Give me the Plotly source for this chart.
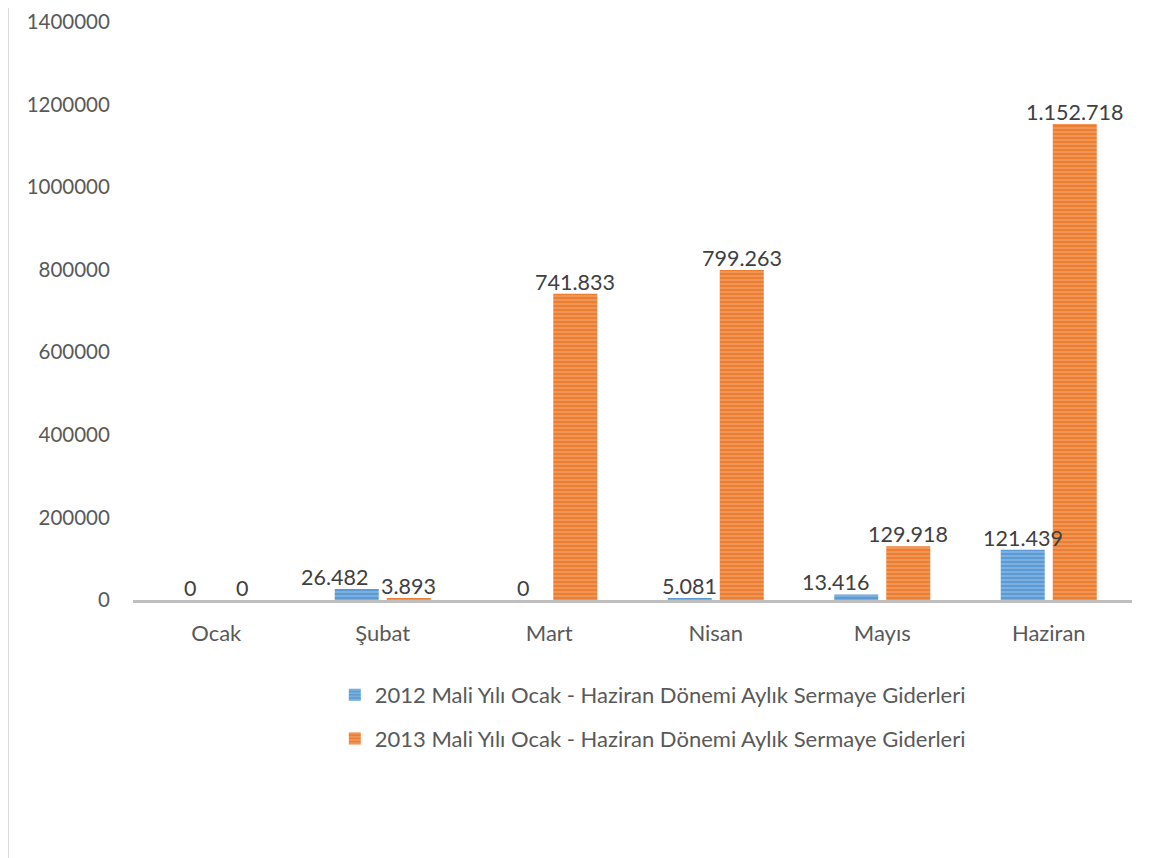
import plotly.graph_objects as go

months = ["Ocak", "Şubat", "Mart", "Nisan", "Mayıs", "Haziran"]
values_2012 = [0, 26482, 0, 5081, 13416, 121439]
values_2013 = [0, 3893, 741833, 799263, 129918, 1152718]
name_2012 = "2012 Mali Yılı Ocak - Haziran Dönemi Aylık Sermaye Giderleri"
name_2013 = "2013 Mali Yılı Ocak - Haziran Dönemi Aylık Sermaye Giderleri"
y_ticks = [0, 200000, 400000, 600000, 800000, 1000000, 1200000, 1400000]

# label nudges (pixels) used to keep neighbouring value labels apart, as in the original
label_nudge_2012 = [0, -22, 0, 0, -21, 0]
label_nudge_2013 = [0, 0, 0, 0, 0, 0]

def tr(v):
    return f"{v:,}".replace(",", ".")

FONT = "Lato"
BAR_OFFSET = 26  # half the distance between the two bars of a group, px

fig = go.Figure()
for i, (name, vals, col, fg) in enumerate([
    (name_2012, values_2012, "#5B9BD5", "#C9DDF0"),
    (name_2013, values_2013, "#ED7D31", "#F9CFB2"),
]):
    fig.add_trace(go.Bar(
        x=months, y=vals, name=name, legendgroup=f"g{i}",
        marker=dict(color=col, line=dict(width=0),
                    pattern=dict(shape="-", fgcolor=fg, bgcolor=col, size=4, solidity=0.3)),
    ))

annotations = []
for vals, nudges, side in [(values_2012, label_nudge_2012, -1), (values_2013, label_nudge_2013, 1)]:
    for m, v, n in zip(months, vals, nudges):
        annotations.append(dict(
            x=m, y=v, xref="x", yref="y", text=tr(v), showarrow=False,
            xanchor="center", yanchor="bottom", xshift=side * BAR_OFFSET + n, yshift=-3,
            font=dict(family=FONT, size=21.5, color="#404040"),
        ))

fig.update_layout(
    width=1154, height=858,
    margin=dict(l=125, r=30, t=14, b=266, autoexpand=False),
    paper_bgcolor="white", plot_bgcolor="white",
    barmode="group", bargap=0.375, bargroupgap=0.154,
    font=dict(family=FONT, size=22, color="#595959"),
    legend=dict(orientation="v", x=0.202, xanchor="left", y=-0.128, yanchor="top",
                font=dict(family=FONT, size=22, color="#595959"),
                tracegroupgap=12, itemwidth=30),
    showlegend=True,
    annotations=annotations,
    shapes=[
        dict(type="line", xref="paper", yref="paper", x0=-0.1246, x1=-0.1246, y0=-0.5, y1=1.05,
             line=dict(color="#D9D9D9", width=1)),
    ],
)
fig.update_xaxes(showline=True, linecolor="#BFBFBF", linewidth=3, showgrid=False,
                 ticks="outside", ticklen=12, tickcolor="rgba(0,0,0,0)", automargin=False,
                 tickfont=dict(family=FONT, size=22, color="#595959"))
fig.update_yaxes(range=[0, 1400000], tickvals=y_ticks, ticktext=[str(v) for v in y_ticks],
                 showgrid=False, zeroline=False, showline=False, automargin=False,
                 ticks="outside", ticklen=18, tickcolor="rgba(0,0,0,0)",
                 tickfont=dict(family=FONT, size=20.5, color="#595959"))
fig.write_html("out.html")
